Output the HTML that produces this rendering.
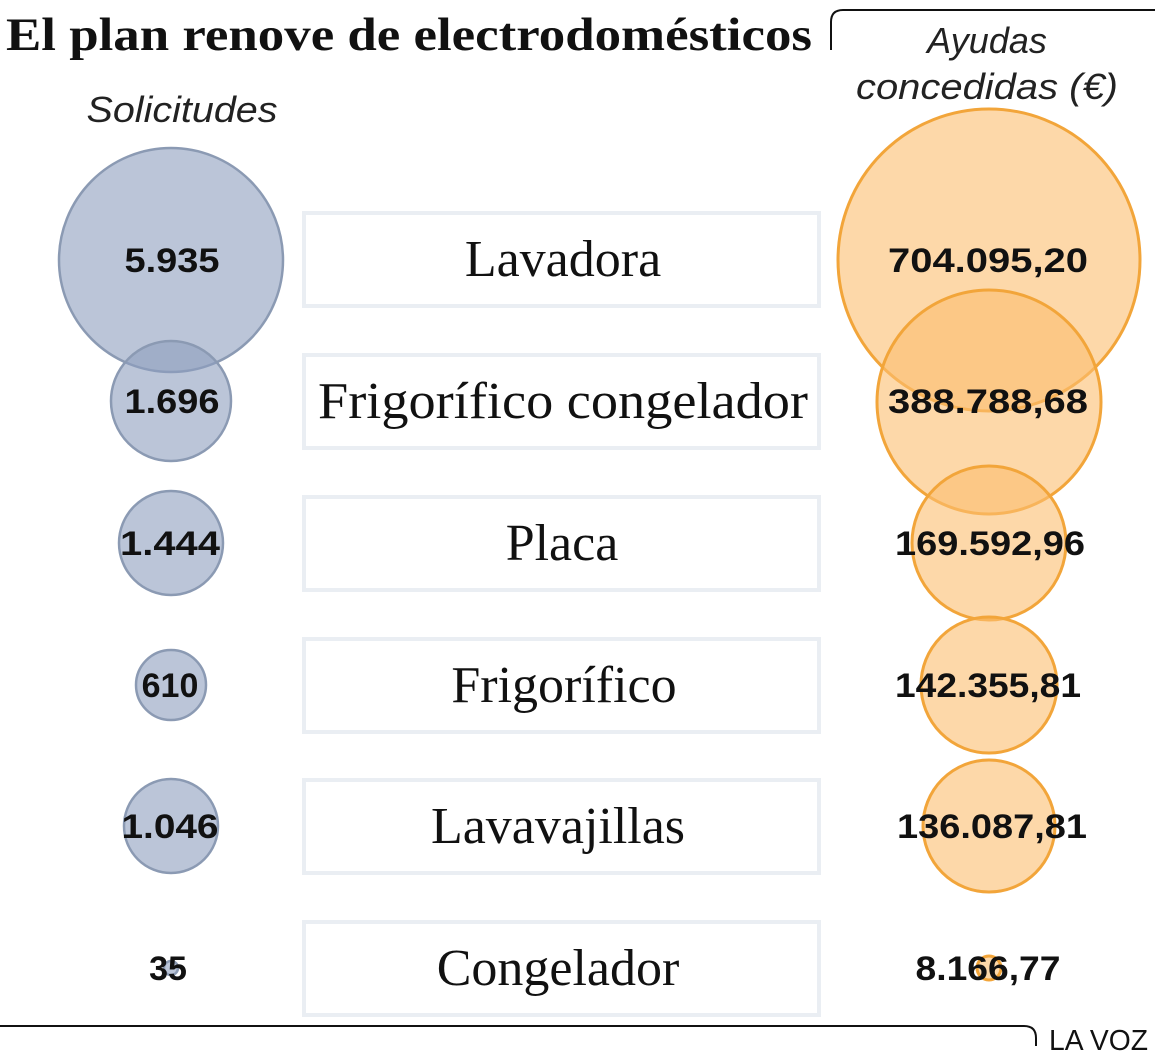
<!DOCTYPE html>
<html><head><meta charset="utf-8"><style>
body{margin:0;background:#fff;}
svg{display:block}
.v{font-family:"Liberation Sans",sans-serif;font-weight:bold;font-size:34px;fill:#111;text-anchor:middle;}
.l{font-family:"Liberation Serif",serif;font-size:52px;fill:#111;text-anchor:middle;}
.h{font-family:"Liberation Sans",sans-serif;font-style:italic;font-size:36px;fill:#222;text-anchor:middle;}
</style></head><body>
<svg width="1155" height="1059" viewBox="0 0 1155 1059" xmlns="http://www.w3.org/2000/svg">
<text x="6" y="50" font-family="Liberation Serif,serif" font-weight="bold" font-size="47" fill="#111" textLength="806" lengthAdjust="spacingAndGlyphs">El plan renove de electrodomésticos</text>
<path d="M831 50 V22 Q831 10 843 10 H1155" fill="none" stroke="#111" stroke-width="2"/>
<text class="h" x="182" y="122" textLength="191" lengthAdjust="spacingAndGlyphs">Solicitudes</text>
<text class="h" x="987" y="53">Ayudas</text>
<text class="h" x="987" y="99" textLength="262" lengthAdjust="spacingAndGlyphs">concedidas (€)</text>
<g fill="none" stroke="#eaeef3" stroke-width="4">
<rect x="304" y="213" width="515" height="93"/>
<rect x="304" y="355" width="515" height="93"/>
<rect x="304" y="497" width="515" height="93"/>
<rect x="304" y="639" width="515" height="93"/>
<rect x="304" y="780" width="515" height="93"/>
<rect x="304" y="922" width="515" height="93"/>
</g>
<g fill="rgba(142,158,190,0.6)" stroke="#8b9ab3" stroke-width="2.5">
<circle cx="171" cy="260" r="112"/>
<circle cx="171" cy="401" r="60"/>
<circle cx="171" cy="543" r="52"/>
<circle cx="171" cy="685" r="35"/>
<circle cx="171" cy="826" r="47"/>
<circle cx="171" cy="968" r="7"/>
</g>
<g fill="rgba(251,190,112,0.6)" stroke="#f2a53a" stroke-width="3">
<circle cx="989" cy="260" r="151"/>
<circle cx="989" cy="402" r="112"/>
<circle cx="989" cy="543" r="77"/>
<circle cx="989" cy="685" r="68"/>
<circle cx="989" cy="826" r="66"/>
<circle cx="989" cy="968" r="12"/>
</g>
<g class="v">
<text x="172" y="272" textLength="95" lengthAdjust="spacingAndGlyphs">5.935</text>
<text x="172" y="413" textLength="95" lengthAdjust="spacingAndGlyphs">1.696</text>
<text x="170" y="555" textLength="100" lengthAdjust="spacingAndGlyphs">1.444</text>
<text x="170" y="697">610</text>
<text x="170" y="838" textLength="97" lengthAdjust="spacingAndGlyphs">1.046</text>
<text x="168" y="980">35</text>
<text x="988" y="272" textLength="200" lengthAdjust="spacingAndGlyphs">704.095,20</text>
<text x="988" y="413" textLength="200" lengthAdjust="spacingAndGlyphs">388.788,68</text>
<text x="990" y="555" textLength="190" lengthAdjust="spacingAndGlyphs">169.592,96</text>
<text x="988" y="697" textLength="186" lengthAdjust="spacingAndGlyphs">142.355,81</text>
<text x="992" y="838" textLength="190" lengthAdjust="spacingAndGlyphs">136.087,81</text>
<text x="988" y="980" textLength="145" lengthAdjust="spacingAndGlyphs">8.166,77</text>
</g>
<g class="l">
<text x="563" y="276">Lavadora</text>
<text x="563" y="418" textLength="490" lengthAdjust="spacingAndGlyphs">Frigorífico congelador</text>
<text x="562" y="560">Placa</text>
<text x="564" y="702">Frigorífico</text>
<text x="558" y="843">Lavavajillas</text>
<text x="558" y="985">Congelador</text>
</g>
<path d="M0 1026 H1024 Q1036 1026 1036 1038 V1046" fill="none" stroke="#111" stroke-width="2"/>
<text x="1049" y="1050" font-family="Liberation Sans,sans-serif" font-size="29" fill="#111" textLength="99" lengthAdjust="spacingAndGlyphs">LA VOZ</text>
</svg>
</body></html>
